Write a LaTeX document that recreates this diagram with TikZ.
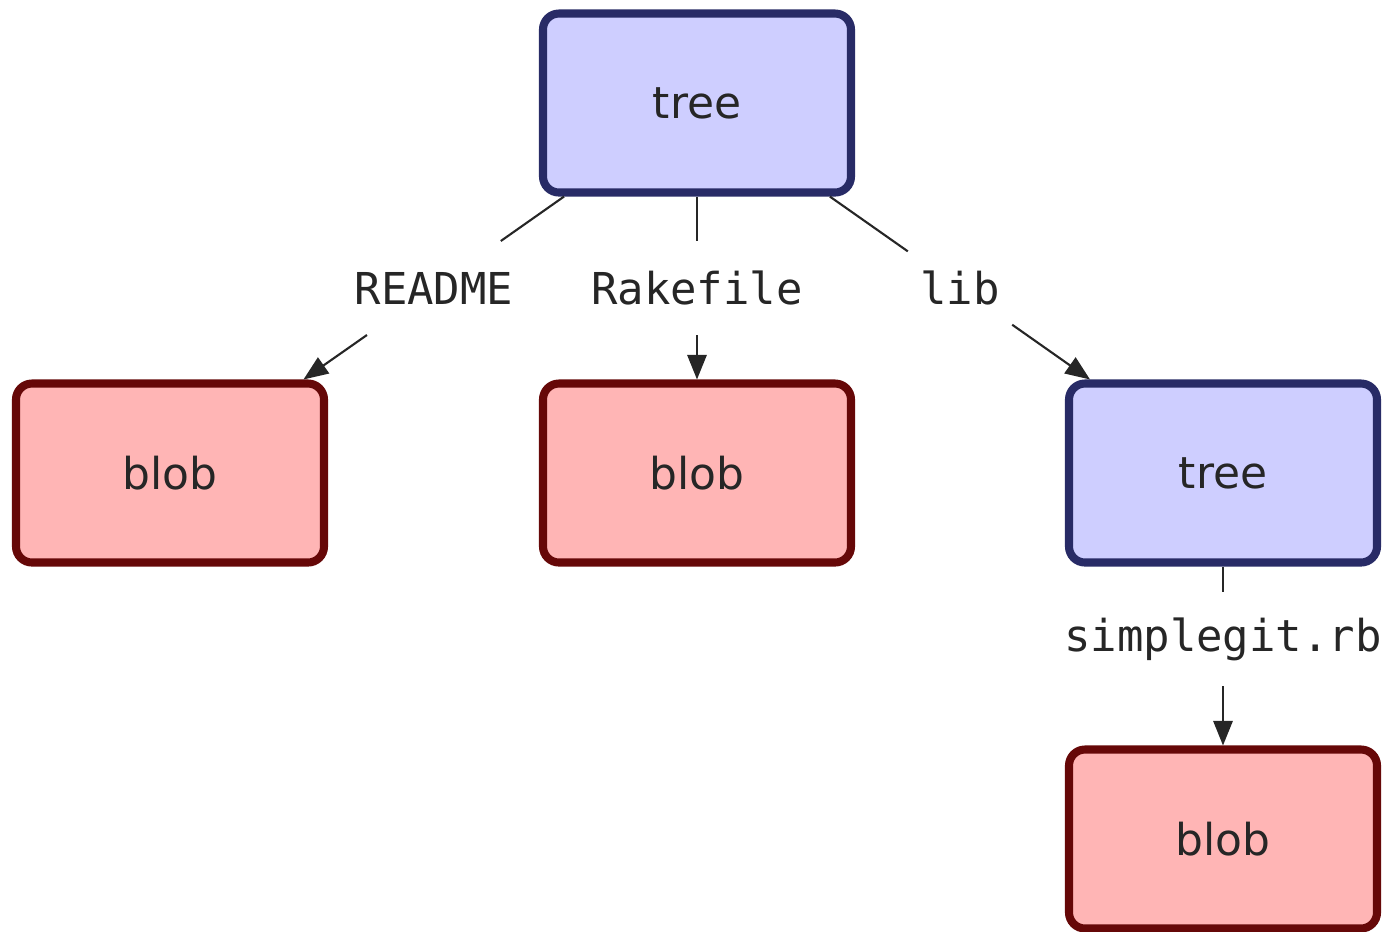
\documentclass[tikz,border=0pt]{standalone}
\usepackage{xcolor}
\usepackage{fontspec}
\setmainfont{DejaVu Sans}
\newfontfamily\monofont{DejaVu Sans Mono}
\usepackage{tikz}
\usetikzlibrary{arrows.meta}

\definecolor{treefill}{RGB}{206,206,255}
\definecolor{treeline}{RGB}{40,43,102}
\definecolor{blobfill}{RGB}{255,181,181}
\definecolor{blobline}{RGB}{102,8,8}

\begin{document}
\begin{tikzpicture}[scale=1.0]
      \tikzset{treebox/.style={rectangle,draw=treeline,fill=treefill,line width=2.3pt,rounded corners=1.6mm,minimum width=30.8mm,minimum height=17.9mm,text=black!85,font=\fontsize{12.5}{15}\selectfont}}
      \tikzset{blobbox/.style={rectangle,draw=blobline,fill=blobfill,line width=2.3pt,rounded corners=1.6mm,minimum width=30.8mm,minimum height=17.9mm,text=black!85,font=\fontsize{12.5}{15}\selectfont}}
      \tikzset{fname/.style={rectangle,inner xsep=1.25mm,inner ysep=0pt,outer sep=0pt,minimum height=9.4mm,text=black!85,font=\monofont\fontsize{12.5}{15}\selectfont}}
      \tikzset{link/.style={line width=0.6pt,black!85}}
      \tikzset{ptr/.style={line width=0.6pt,black!85,-{Triangle[length=7pt,width=5.5pt]}}}
      
      \useasboundingbox (0,0) rectangle (13.88,-9.31);
      
      \node[treebox] (root) at (6.97,-1.03) {tree};
      \node[blobbox] (rake) [below of=root,yshift=-27mm] {blob};
      \node[blobbox] (readme) [left of=rake,xshift=-42.7mm] {blob};
      \node[treebox] (lib) [right of=rake,xshift=42.6mm] {tree};
      \node[blobbox] (simple) [below of=lib,yshift=-26.6mm] {blob};
      
      \node[fname] (lreadme) [below of=root,yshift=-8.5mm,xshift=-26.3mm] {README};
      \node[fname] (lrake) [below of=root,yshift=-8.5mm] {Rakefile};
      \node[fname] (llib) [below of=root,yshift=-8.5mm,xshift=26.3mm] {lib};
      \node[fname] (lsimple) [below of=lib,yshift=-6.6mm] {simplegit.rb};
      
      \draw[link] (root) -- (lreadme);
      \draw[ptr] (lreadme) -- (readme);
      
      \draw[link] (root) -- (lrake);
      \draw[ptr] (lrake) -- (rake);
      
      \draw[link] (root) -- (llib);
      \draw[ptr] (llib) -- (lib);
      
      \draw[link] (lib) -- (lsimple);
      \draw[ptr] (lsimple) -- (simple);
      
    \end{tikzpicture}
\end{document}
